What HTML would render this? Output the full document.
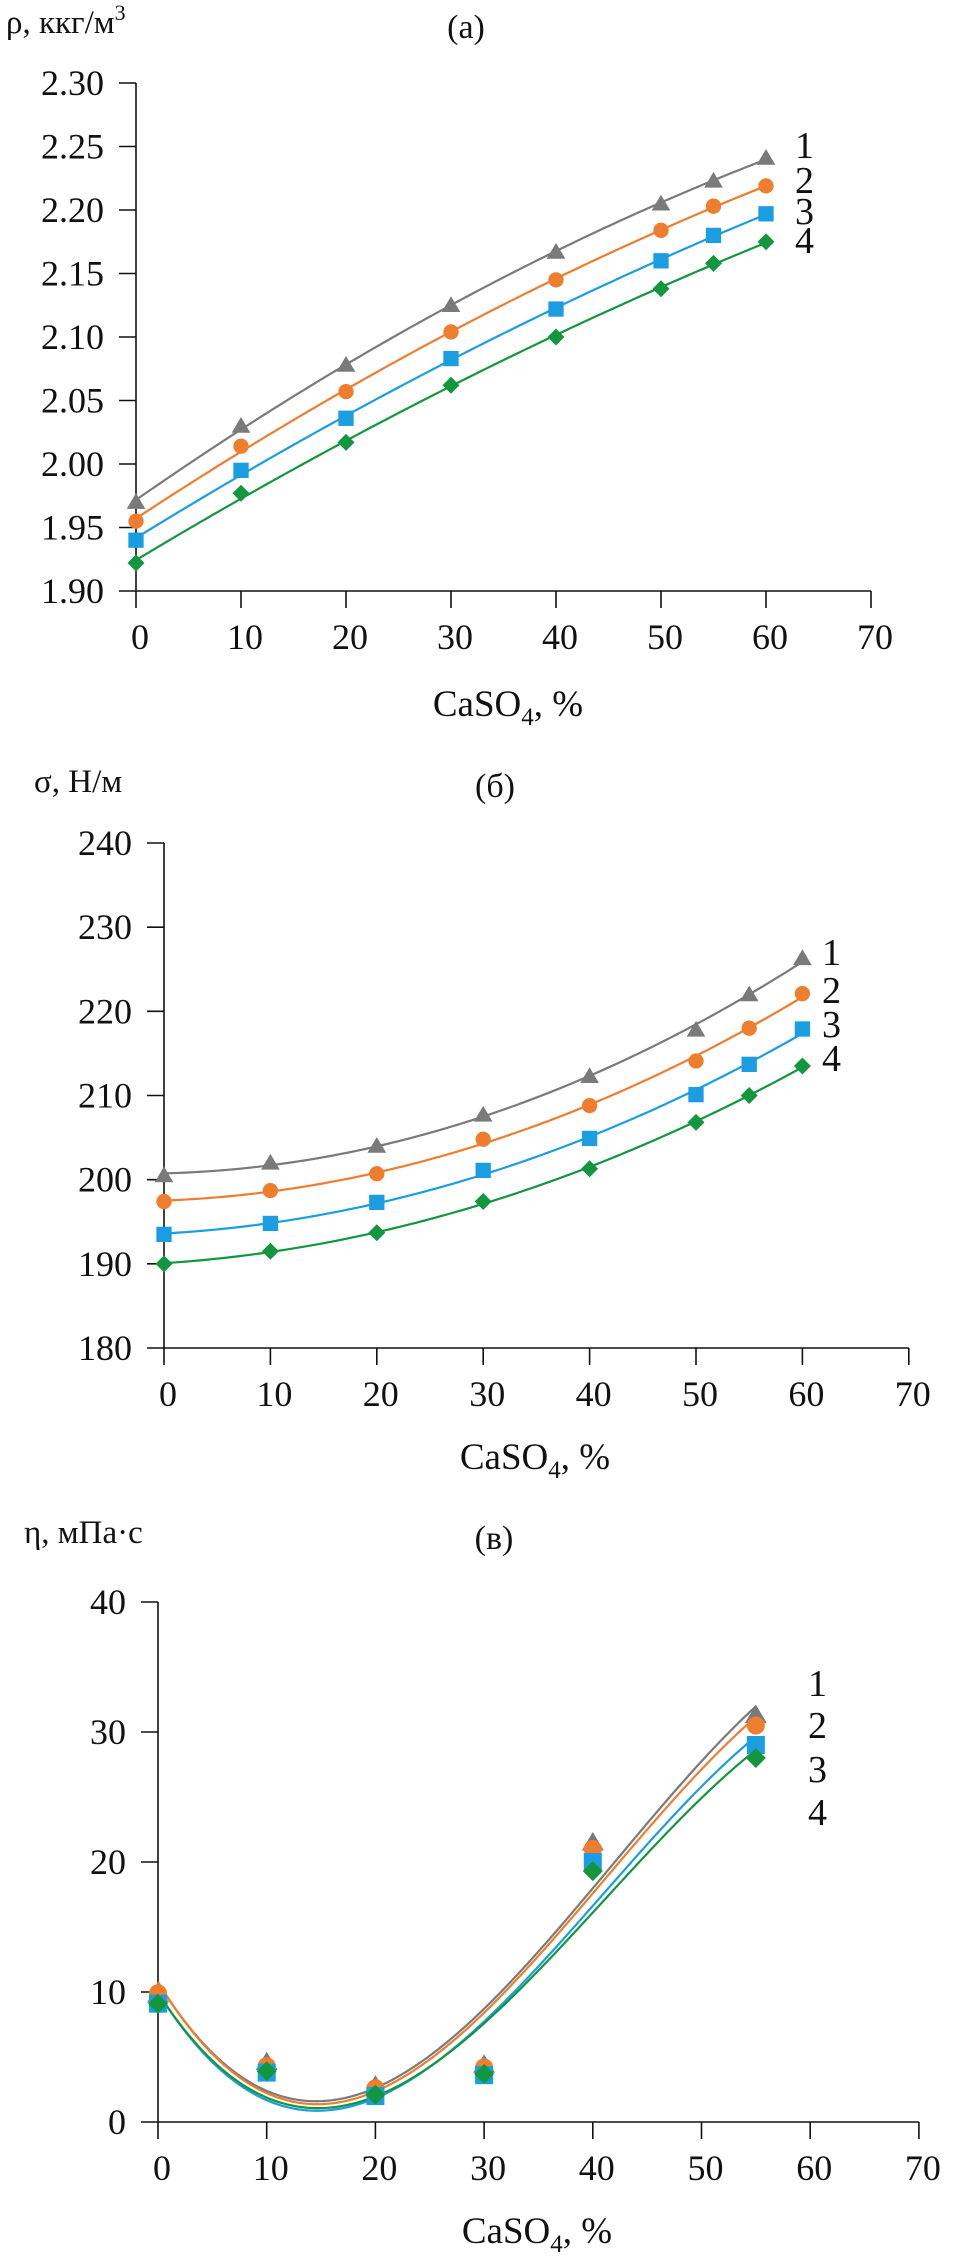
<!DOCTYPE html>
<html><head><meta charset="utf-8"><style>
html,body{margin:0;padding:0;background:#fff;width:953px;height:2257px;overflow:hidden}
svg{display:block}
text{font-family:"Liberation Serif","Times New Roman",serif;fill:#111}
</style></head><body>
<svg id="fig" width="953" height="2257" viewBox="0 0 953 2257" xmlns="http://www.w3.org/2000/svg"></svg>
<script>
// ---- data ----
const xA = [0,10,20,30,40,50,55,60];
const a1 = [1.970,2.030,2.078,2.125,2.167,2.205,2.223,2.241];
const a2 = [1.955,2.014,2.057,2.104,2.145,2.184,2.203,2.219];
const a3 = [1.940,1.995,2.036,2.083,2.122,2.160,2.180,2.197];
const a4 = [1.922,1.977,2.017,2.062,2.100,2.138,2.158,2.175];
const yTicksA = ["1.90","1.95","2.00","2.05","2.10","2.15","2.20","2.25","2.30"];

const xB = [0,10,20,30,40,50,55,60];
const b1 = [200.5,202.0,204.0,207.7,212.3,217.8,222.0,226.3];
const b2 = [197.4,198.7,200.7,204.8,208.8,214.1,218.0,222.1];
const b3 = [193.5,194.8,197.3,201.1,204.9,210.1,213.7,217.9];
const b4 = [190.0,191.5,193.7,197.4,201.3,206.8,210.0,213.5];
const yTicksB = ["180","190","200","210","220","230","240"];

const xC = [0,10,20,30,40,55];
const c1 = [9.8,4.6,2.8,4.4,21.5,31.3];
const c2 = [9.9,4.3,2.6,4.2,21.0,30.5];
const c3 = [9.1,3.8,2.0,3.6,20.0,29.0];
const c4 = [9.1,3.9,2.1,3.7,19.3,28.0];
const yTicksC = ["0","10","20","30","40"];

const xTicks = ["0","10","20","30","40","50","60","70"];
const seriesLabels = ["1","2","3","4"];

const NS="http://www.w3.org/2000/svg";
const svg=document.getElementById('fig');
const colors=["#7a7a7a","#ee7d2e","#1b9de2","#12973f"];
const shapes=["tri","circ","sq","dia"];

function mk(tag,attrs,parent){const e=document.createElementNS(NS,tag);for(const k in attrs)e.setAttribute(k,attrs[k]);(parent||svg).appendChild(e);return e;}

function polyfit(xs,ys,deg){
  const n=deg+1;const M=[];for(let i=0;i<n;i++){M.push(new Array(n+1).fill(0));}
  for(let k=0;k<xs.length;k++){for(let i=0;i<n;i++){for(let j=0;j<n;j++)M[i][j]+=Math.pow(xs[k],i+j);M[i][n]+=ys[k]*Math.pow(xs[k],i);}}
  for(let i=0;i<n;i++){let p=i;for(let r=i+1;r<n;r++)if(Math.abs(M[r][i])>Math.abs(M[p][i]))p=r;[M[i],M[p]]=[M[p],M[i]];
    for(let r=0;r<n;r++){if(r===i)continue;const f=M[r][i]/M[i][i];for(let c=i;c<=n;c++)M[r][c]-=f*M[i][c];}}
  return M.map((row,i)=>row[n]/row[i]);
}
function pv(c,x){let s=0;for(let i=0;i<c.length;i++)s+=c[i]*Math.pow(x,i);return s;}

function marker(g,shape,cx,cy,r,col){
  let e;
  if(shape==="tri")e=mk('polygon',{points:`${cx},${cy-r*1.05} ${cx+r*1.1},${cy+r*0.8} ${cx-r*1.1},${cy+r*0.8}`,fill:col},g);
  else if(shape==="circ")e=mk('circle',{cx:cx,cy:cy,r:r*0.9,fill:col},g);
  else if(shape==="sq")e=mk('rect',{x:cx-r*0.9,y:cy-r*0.9,width:r*1.8,height:r*1.8,fill:col},g);
  else e=mk('polygon',{points:`${cx},${cy-r} ${cx+r},${cy} ${cx},${cy+r} ${cx-r},${cy}`,fill:col},g);
  return e;
}

function chart(cfg){
  const g=mk('g',{});
  
  
  const X=v=>cfg.x0+v/10*cfg.per10;
  const Y=v=>cfg.yBot-(v-cfg.ymin)/(cfg.ymax-cfg.ymin)*(cfg.yBot-cfg.yTop);
  const ax=mk('line',{x1:cfg.x0,y1:cfg.yTop,x2:cfg.x0,y2:cfg.yBot,stroke:"#111","stroke-width":1.6},g);
  
  const bx=mk('line',{x1:cfg.x0,y1:cfg.yBot,x2:X(70),y2:cfg.yBot,stroke:"#111","stroke-width":1.6},g);
  
  cfg.yTicks.forEach(t=>{const y=Y(parseFloat(t));
    mk('line',{x1:cfg.x0-17,y1:y,x2:cfg.x0,y2:y,stroke:"#111","stroke-width":1.6},g);
    const tx=mk('text',{x:cfg.x0-32,y:y+12,"text-anchor":"end","font-size":36},g);tx.textContent=t;
    });
  xTicks.forEach(t=>{const x=X(parseFloat(t));
    mk('line',{x1:x,y1:cfg.yBot,x2:x,y2:cfg.yBot+17,stroke:"#111","stroke-width":1.6},g);
    const tx=mk('text',{x:x+4,y:cfg.yBot+58,"text-anchor":"middle","font-size":36},g);tx.textContent=t;
    });
  cfg.series.forEach((ys,i)=>{
    const c=polyfit(cfg.xs,ys,cfg.deg);
    const xmax=cfg.xs[cfg.xs.length-1];let d="";
    for(let k=0;k<=120;k++){const xv=xmax*k/120;d+=(k?"L":"M")+X(xv).toFixed(2)+","+Y(pv(c,xv)).toFixed(2);}
    const p=mk('path',{d:d,fill:"none",stroke:colors[i],"stroke-width":2.2},g);
    
  });
  cfg.series.forEach((ys,i)=>{
    ys.forEach((v,k)=>{const m=marker(g,shapes[i],X(cfg.xs[k]),Y(v),cfg.mr,colors[i]);
      });
  });
  seriesLabels.forEach((s,i)=>{const t=mk('text',{x:cfg.labX,y:cfg.labY[i]+13,"font-size":38},g);t.textContent=s;
    });
  const ti=mk('text',{x:cfg.titleX,y:cfg.titleY,"text-anchor":"middle","font-size":34},g);ti.textContent=cfg.title;
  
  const yl=mk('text',{x:cfg.ylX,y:cfg.ylY,"font-size":33},g);yl.innerHTML=cfg.ylab;
  
  const xl=mk('text',{x:cfg.xlX,y:cfg.xlY,"text-anchor":"middle","font-size":37},g);
  xl.innerHTML='CaSO<tspan font-size="25" dy="9">4</tspan><tspan dy="-9">, %</tspan>';
  
}

chart({name:"chart-density",xs:xA,series:[a1,a2,a3,a4],deg:2,yTicks:yTicksA,ymin:1.90,ymax:2.30,
  x0:136,per10:105,yTop:83,yBot:591,mr:8.5,labX:795,labY:[145,180,211,240],
  title:"(a)",titleX:466,titleY:38,ylab:'ρ, ккг/м<tspan font-size="22" dy="-13">3</tspan>',ylX:6,ylY:33,xlX:508,xlY:716});
chart({name:"chart-surface-tension",xs:xB,series:[b1,b2,b3,b4],deg:2,yTicks:yTicksB,ymin:180,ymax:240,
  x0:164,per10:106.4,yTop:843,yBot:1348,mr:8.5,labX:822,labY:[952,990,1024,1058],
  title:"(б)",titleX:495,titleY:797,ylab:'σ, Н/м',ylX:34,ylY:792,xlX:535,xlY:1469});
chart({name:"chart-viscosity",xs:xC,series:[c1,c2,c3,c4],deg:3,yTicks:yTicksC,ymin:0,ymax:40,
  x0:158,per10:108.7,yTop:1602,yBot:2122,mr:10,labX:808,labY:[1683,1725,1769,1812],
  title:"(в)",titleX:494,titleY:1549,ylab:'η, мПа·с',ylX:24,ylY:1543,xlX:537,xlY:2243});
</script>
</body></html>
